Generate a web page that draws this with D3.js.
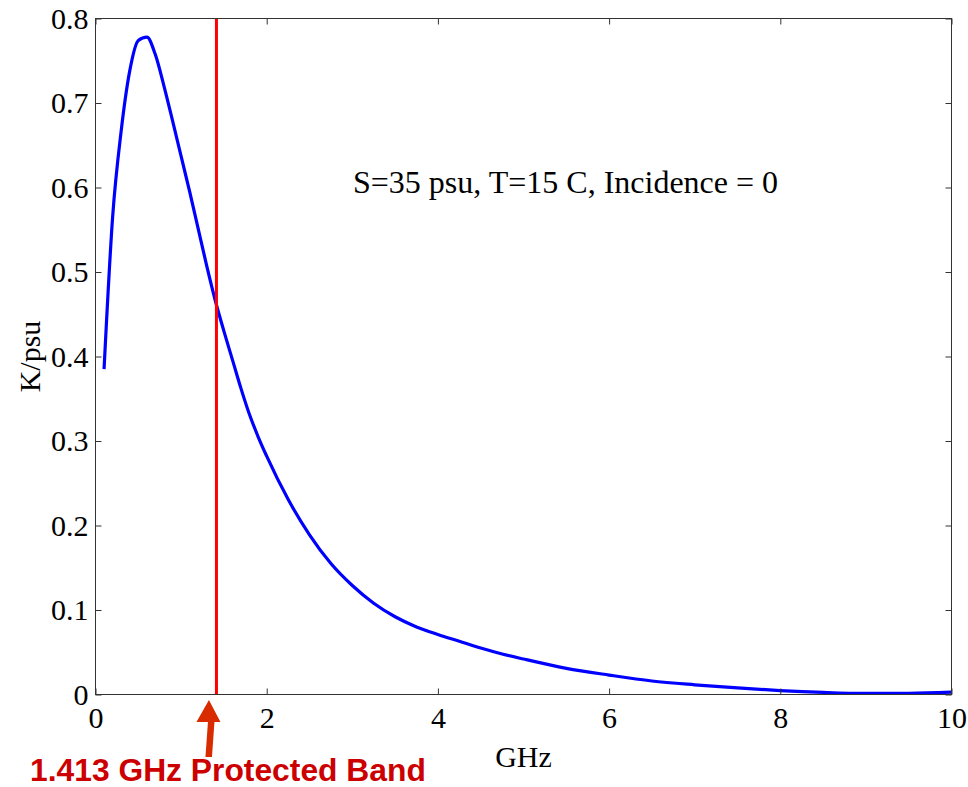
<!DOCTYPE html>
<html>
<head>
<meta charset="utf-8">
<script src="https://cdn.jsdelivr.net/npm/d3@7"></script>
<style>
  html, body { margin: 0; padding: 0; background: #fff; }
  svg { display: block; }
</style>
</head>
<body>
<svg id="chart" width="968" height="787"></svg>
<script>
// ---- data ----
const freqGHz = [0.1, 0.2, 0.3, 0.4, 0.5, 0.6, 0.7, 0.8, 0.9, 1.0, 1.1, 1.2, 1.3, 1.4, 1.5, 1.6, 1.7, 1.8, 1.9, 2.0,
                 2.25, 2.5, 2.75, 3.0, 3.25, 3.5, 3.75, 4.0, 4.25, 4.5, 4.75, 5.0, 5.5, 6.0, 6.5, 7.0, 7.5, 8.0, 8.5, 9.0, 9.5, 10.0];
const sensitivity = [0.385, 0.565, 0.667, 0.738, 0.774, 0.778, 0.757, 0.720, 0.679, 0.637, 0.595, 0.551, 0.507, 0.466, 0.430,
                     0.396, 0.362, 0.331, 0.305, 0.282, 0.231, 0.189, 0.155, 0.129, 0.108, 0.092, 0.080, 0.071, 0.063, 0.055,
                     0.048, 0.042, 0.031, 0.0230, 0.016, 0.0115, 0.0078, 0.0047, 0.0025, 0.0013, 0.0015, 0.0027];
const xTicks = [0, 2, 4, 6, 8, 10];
const yTicks = [0, 0.1, 0.2, 0.3, 0.4, 0.5, 0.6, 0.7, 0.8];
const yTickLabels = ["0", "0.1", "0.2", "0.3", "0.4", "0.5", "0.6", "0.7", "0.8"];
const protectedBand = 1.413;
const xLabel = "GHz";
const yLabel = "K/psu";
const noteText = "S=35 psu, T=15 C, Incidence = 0";
const bandText = "1.413 GHz Protected Band";

// ---- layout ----
const svg = d3.select("#chart");
const L = 95.5, R = 951.5, T = 18.5, B = 694.5;
const x = d3.scaleLinear().domain([0, 10]).range([L, R]);
const y = d3.scaleLinear().domain([0, 0.8]).range([B, T]);
const serif = "'Liberation Serif', 'Times New Roman', serif";
const axisColor = "#333";

// curve
const line = d3.line().x((d, i) => x(freqGHz[i])).y(d => y(d)).curve(d3.curveMonotoneX);
svg.append("path")
  .datum(sensitivity)
  .attr("d", line)
  .attr("fill", "none")
  .attr("stroke", "#0000ff")
  .attr("stroke-width", 3.2)
  .attr("stroke-linejoin", "round");

// protected band line
svg.append("line")
  .attr("x1", x(protectedBand)).attr("x2", x(protectedBand))
  .attr("y1", y(0.8)).attr("y2", y(0))
  .attr("stroke", "#ff0000").attr("stroke-width", 3);

// axes
function styleAxis(g, hideText) {
  g.select(".domain").remove();
  g.selectAll(".tick line").attr("stroke", axisColor).attr("stroke-width", 1);
  g.selectAll(".tick text")
    .attr("font-family", serif).attr("font-size", 30).attr("fill", "#000");
  if (hideText) g.selectAll(".tick text").remove();
}

const xAxis = svg.append("g").attr("transform", `translate(0,${B})`)
  .call(d3.axisBottom(x).tickValues(xTicks).tickFormat(d3.format("d"))
    .tickSizeInner(-6).tickSizeOuter(0).tickPadding(12));
styleAxis(xAxis, false);

const xAxisTop = svg.append("g").attr("transform", `translate(0,${T})`)
  .call(d3.axisTop(x).tickValues(xTicks).tickSizeInner(-6).tickSizeOuter(0));
styleAxis(xAxisTop, true);

const yAxis = svg.append("g").attr("transform", `translate(${L},0)`)
  .call(d3.axisLeft(y).tickValues(yTicks).tickFormat((d, i) => yTickLabels[i])
    .tickSizeInner(-6).tickSizeOuter(0).tickPadding(7));
styleAxis(yAxis, false);

const yAxisRight = svg.append("g").attr("transform", `translate(${R},0)`)
  .call(d3.axisRight(y).tickValues(yTicks).tickSizeInner(-6).tickSizeOuter(0));
styleAxis(yAxisRight, true);

// frame
svg.append("rect")
  .attr("x", L).attr("y", T).attr("width", R - L).attr("height", B - T)
  .attr("fill", "none").attr("stroke", axisColor).attr("stroke-width", 1);

// axis labels
svg.append("text")
  .attr("x", (L + R) / 2).attr("y", 767)
  .attr("text-anchor", "middle")
  .attr("font-family", serif).attr("font-size", 30)
  .text(xLabel);

svg.append("text")
  .attr("transform", `translate(40,${(T + B) / 2}) rotate(-90)`)
  .attr("text-anchor", "middle")
  .attr("font-family", serif).attr("font-size", 30)
  .text(yLabel);

// note
svg.append("text")
  .attr("x", 353).attr("y", 193)
  .attr("font-family", serif).attr("font-size", 32)
  .text(noteText);

// band annotation arrow
const ax = x(protectedBand) - 8;
const arrow = d3.path();
arrow.moveTo(ax - 3, 757);
arrow.lineTo(ax - 0.5, 722);
arrow.lineTo(ax - 12, 722);
arrow.lineTo(ax + 0.5, 700);
arrow.lineTo(ax + 12, 722);
arrow.lineTo(ax + 6, 722);
arrow.lineTo(ax + 3.5, 757);
arrow.closePath();
svg.append("path").attr("d", arrow.toString()).attr("fill", "#d92b00");

svg.append("text")
  .attr("x", 30).attr("y", 781)
  .attr("font-family", "'Liberation Sans', Arial, sans-serif")
  .attr("font-weight", "bold").attr("font-size", 31.8)
  .attr("fill", "#cc0000")
  .text(bandText);
</script>
</body>
</html>
